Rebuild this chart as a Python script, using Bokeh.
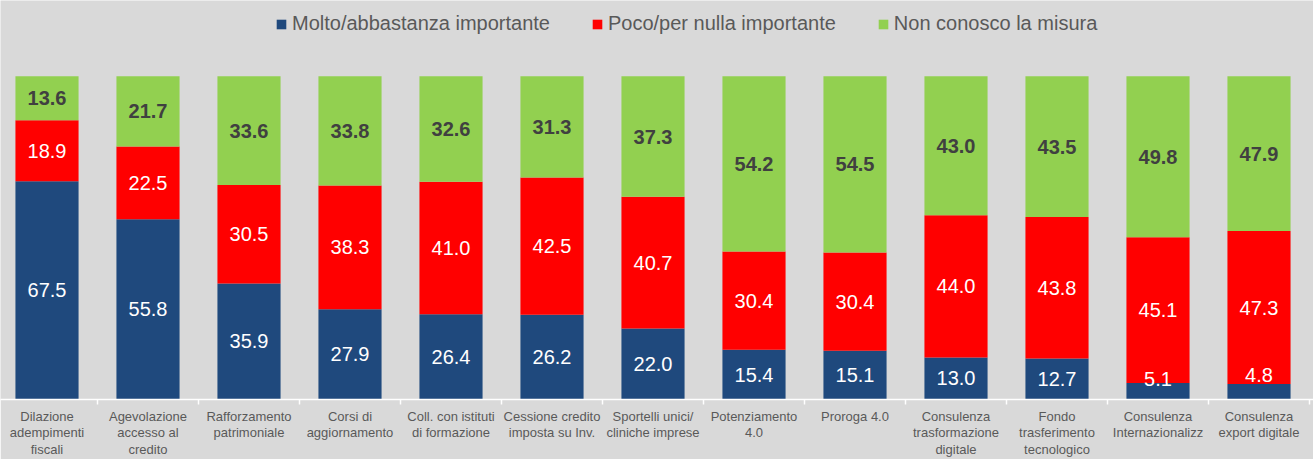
from bokeh.plotting import figure
from bokeh.models import ColumnDataSource, Range1d, FixedTicker, Legend, LegendItem
from bokeh.core.properties import value
from bokeh.embed import file_html
from bokeh.resources import INLINE

categories = [
    "Dilazione\nadempimenti\nfiscali",
    "Agevolazione\naccesso al\ncredito",
    "Rafforzamento\npatrimoniale",
    "Corsi di\naggiornamento",
    "Coll. con istituti\ndi formazione",
    "Cessione credito\nimposta su Inv.",
    "Sportelli unici/\ncliniche imprese",
    "Potenziamento\n4.0",
    "Proroga 4.0",
    "Consulenza\ntrasformazione\ndigitale",
    "Fondo\ntrasferimento\ntecnologico",
    "Consulenza\nInternazionalizz",
    "Consulenza\nexport digitale",
]
molto = [67.5, 55.8, 35.9, 27.9, 26.4, 26.2, 22.0, 15.4, 15.1, 13.0, 12.7, 5.1, 4.8]
poco = [18.9, 22.5, 30.5, 38.3, 41.0, 42.5, 40.7, 30.4, 30.4, 44.0, 43.8, 45.1, 47.3]
non_conosco = [13.6, 21.7, 33.6, 33.8, 32.6, 31.3, 37.3, 54.2, 54.5, 43.0, 43.5, 49.8, 47.9]
series_names = ["Molto/abbastanza importante", "Poco/per nulla importante", "Non conosco la misura"]
colors = ["#1F497D", "#FF0000", "#92D050"]

# label nudges (value units) for the small blue segments
molto_label_nudge = [0, 0, 0, 0, 0, 0, 0, 0, 0, 0, 0, 3.7, 5.3]

FONT = "'Liberation Sans Narrow', 'Arial Narrow', 'Liberation Sans', Arial, sans-serif"
BG = "#D9D9D9"

W, H = 1313, 459
BOTTOM = 59
FRAME_H = H - BOTTOM          # 400 px; bars occupy the lowest 324 px
x = list(range(1, len(categories) + 1))
src = ColumnDataSource(dict(x=x, molto=molto, poco=poco, non=non_conosco))

x0 = 1 - 46.5 / 101
p = figure(width=W, height=H, output_backend="svg", toolbar_location=None,
           x_range=Range1d(x0, x0 + W / 101),
           y_range=Range1d(0, 100 * FRAME_H / 324), y_axis_location=None,
           min_border_left=0, min_border_right=0, min_border_top=0, min_border_bottom=BOTTOM)
p.background_fill_color = BG
p.border_fill_color = BG
p.outline_line_color = None
p.grid.visible = False

rs = p.vbar_stack(["molto", "poco", "non"], x="x", width=0.625, color=colors,
                  line_color=None, source=src)

# value labels
ly_m = [m / 2 + n for m, n in zip(molto, molto_label_nudge)]
ly_p = [m + q / 2 for m, q in zip(molto, poco)]
ly_n = [m + q + g / 2 for m, q, g in zip(molto, poco, non_conosco)]
fmt = lambda v: f"{v:.1f}"
p.text(x=x, y=ly_m, text=[fmt(v) for v in molto], text_align="center", text_baseline="middle",
       text_color="white", text_font=value(FONT), text_font_size="20px")
p.text(x=x, y=ly_p, text=[fmt(v) for v in poco], text_align="center", text_baseline="middle",
       text_color="white", text_font=value(FONT), text_font_size="20px")
p.text(x=x, y=ly_n, text=[fmt(v) for v in non_conosco], text_align="center", text_baseline="middle",
       text_color="#404040", text_font=value(FONT), text_font_size="20px", text_font_style="bold")

ax = p.xaxis[0]
ax.ticker = FixedTicker(ticks=x, minor_ticks=[i + 0.5 for i in range(0, len(categories) + 1)])
ax.major_label_overrides = {i: c for i, c in zip(x, categories)}
ax.axis_line_color = "white"
ax.axis_line_width = 1.5
ax.major_tick_out = 0
ax.major_tick_in = 0
ax.minor_tick_out = 5
ax.minor_tick_in = 0
ax.minor_tick_line_color = "white"
ax.minor_tick_line_width = 1.5
ax.major_label_text_font = FONT
ax.major_label_text_font_size = "13px"
ax.major_label_text_color = "#595959"
ax.major_label_text_line_height = 1.1
ax.major_label_standoff = 4

legend = Legend(items=[LegendItem(label=n, renderers=[r]) for n, r in zip(series_names, rs)],
                orientation="horizontal", location=(275, FRAME_H - 36))
legend.background_fill_alpha = 0
legend.border_line_color = None
legend.padding = 0
legend.margin = 0
legend.spacing = 41
legend.label_standoff = 5
legend.glyph_width = 12
legend.glyph_height = 12
legend.label_height = 22
legend.label_text_font = FONT
legend.label_text_font_size = "20px"
legend.label_text_color = "#595959"
p.add_layout(legend, "center")

open("out.html", "w").write(file_html(p, INLINE))
